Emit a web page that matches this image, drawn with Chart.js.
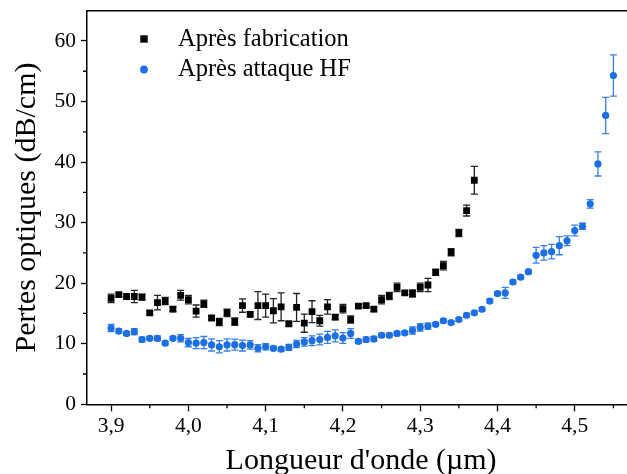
<!DOCTYPE html>
<html>
<head>
<meta charset="utf-8">
<script src="https://cdn.jsdelivr.net/npm/chart.js@4/dist/chart.umd.min.js"></script>
<style>
html,body{margin:0;padding:0;background:#fff;overflow:hidden;}
#wrap{width:640px;height:474px;}
</style>
</head>
<body>
<div id="wrap"><canvas id="c" width="640" height="474"></canvas></div>
<script>
// ---- Data ----
const wavelengthsFab = [3.90,3.91,3.92,3.93,3.94,3.95,3.96,3.97,3.98,3.99,4.00,4.01,4.02,4.03,4.04,4.05,4.06,4.07,4.08,4.09,4.10,4.11,4.12,4.13,4.14,4.15,4.16,4.17,4.18,4.19,4.20,4.21,4.22,4.23,4.24,4.25,4.26,4.27,4.28,4.29,4.30,4.31,4.32,4.33,4.34,4.35,4.36,4.37];
const lossFab = [17.5,18.1,17.8,17.8,17.7,15.1,16.8,17.05,15.7,18.0,17.3,15.4,16.6,14.25,13.6,15.1,13.65,16.3,14.85,16.3,16.3,15.45,16.1,13.3,16.0,13.4,15.3,13.8,16.1,14.4,15.8,14.0,16.2,16.3,15.7,17.3,17.9,19.3,18.4,18.3,19.3,19.7,21.8,22.9,25.1,28.3,32.0,37.0];
const errFab = [0.7,0.3,0.3,1.0,0.5,0.3,1.2,0.6,0.4,0.8,0.7,1.0,0.6,0.3,0.6,0.6,0.6,1.1,0.4,2.3,1.9,2.0,2.3,0.3,2.3,1.5,1.8,0.9,1.2,0.4,0.7,0.6,0.3,0.3,0.4,0.7,0.6,0.7,0.3,0.6,0.7,1.1,0.5,0.7,0.6,0.6,0.9,2.3];

const wavelengthsHF = [3.90,3.91,3.92,3.93,3.94,3.95,3.96,3.97,3.98,3.99,4.00,4.01,4.02,4.03,4.04,4.05,4.06,4.07,4.08,4.09,4.10,4.11,4.12,4.13,4.14,4.15,4.16,4.17,4.18,4.19,4.20,4.21,4.22,4.23,4.24,4.25,4.26,4.27,4.28,4.29,4.30,4.31,4.32,4.33,4.34,4.35,4.36,4.37,4.38,4.39,4.40,4.41,4.42,4.43,4.44,4.45,4.46,4.47,4.48,4.49,4.50,4.51,4.52,4.53,4.54,4.55];
const lossHF = [12.6,12.1,11.7,12.0,10.7,10.9,10.9,10.1,10.9,10.9,10.2,10.1,10.2,9.8,9.5,9.8,9.85,9.7,9.8,9.25,9.5,9.25,9.1,9.4,9.95,10.3,10.5,10.7,11.05,11.3,10.95,11.7,10.4,10.7,10.8,11.4,11.4,11.7,11.8,12.2,12.7,12.9,13.2,13.8,13.5,14.0,14.7,15.1,15.7,17.05,18.3,18.4,20.2,21.0,21.9,24.6,25.0,25.2,26.2,27.0,28.7,29.4,33.1,39.7,47.7,54.3];
const errHF = [0.6,0.3,0.3,0.5,0.4,0.3,0.4,0.3,0.3,0.6,0.7,0.9,1.0,1.0,1.0,1.0,0.9,0.9,0.7,0.6,0.5,0.3,0.3,0.5,0.6,0.7,0.8,0.9,1.0,1.0,0.9,0.8,0.3,0.4,0.4,0.3,0.3,0.3,0.3,0.6,0.6,0.5,0.3,0.3,0.3,0.3,0.3,0.3,0.3,0.3,0.3,0.9,0.3,0.3,0.3,1.3,1.2,1.2,1.5,0.8,0.9,0.5,0.7,2.0,3.0,3.4];

const xMajorTicks = [3.9,4.0,4.1,4.2,4.3,4.4,4.5];
const xMinorTicks = [3.95,4.05,4.15,4.25,4.35,4.45,4.55];
const yMajorTicks = [0,10,20,30,40,50,60];
const yMinorTicks = [5,15,25,35,45,55];
const seriesNames = ["Après fabrication","Après attaque HF"];

const BLACK = '#000000';
const BLUE = 'rgb(28,110,228)';
const BLUE_ERR = 'rgb(55,128,230)';
const FONT = "'Liberation Serif','Times New Roman',serif";

const errorBarPlugin = {
  id: 'errorBars',
  beforeDatasetsDraw(chart) {
    const ctx = chart.ctx, xs = chart.scales.x, ys = chart.scales.y;
    const sets = [[wavelengthsFab, lossFab, errFab, '#222'], [wavelengthsHF, lossHF, errHF, BLUE_ERR]];
    ctx.save();
    ctx.lineWidth = 1.3;
    sets.forEach(([wl, v, e, col]) => {
      ctx.strokeStyle = col;
      for (let i = 0; i < wl.length; i++) {
        const px = xs.getPixelForValue(wl[i]);
        const y1 = ys.getPixelForValue(v[i] + e[i]);
        const y2 = ys.getPixelForValue(v[i] - e[i]);
        ctx.beginPath();
        ctx.moveTo(px, y1); ctx.lineTo(px, y2);
        ctx.moveTo(px - 3.5, y1); ctx.lineTo(px + 3.5, y1);
        ctx.moveTo(px - 3.5, y2); ctx.lineTo(px + 3.5, y2);
        ctx.stroke();
      }
    });
    ctx.restore();
  }
};

const decorPlugin = {
  id: 'decor',
  afterDraw(chart) {
    const ctx = chart.ctx, xs = chart.scales.x, ys = chart.scales.y, a = chart.chartArea;
    ctx.save();
    ctx.strokeStyle = '#000';
    ctx.lineWidth = 1.3;
    ctx.beginPath();
    xMinorTicks.forEach(v => { const p = xs.getPixelForValue(v); ctx.moveTo(p, a.bottom); ctx.lineTo(p, a.bottom + 4); });
    yMinorTicks.forEach(v => { const p = ys.getPixelForValue(v); ctx.moveTo(a.left, p); ctx.lineTo(a.left - 4, p); });
    ctx.stroke();
    // top frame line
    ctx.lineWidth = 1.5;
    ctx.beginPath();
    ctx.moveTo(a.left, a.top); ctx.lineTo(a.right + 20, a.top);
    ctx.stroke();
    // legend
    ctx.fillStyle = BLACK;
    ctx.fillRect(144 - 3.7, 39 - 3.7, 7.4, 7.4);
    ctx.fillStyle = BLUE;
    ctx.beginPath(); ctx.arc(144, 69.5, 3.9, 0, Math.PI * 2); ctx.fill();
    ctx.fillStyle = '#000';
    ctx.font = "24.5px " + FONT;
    ctx.textBaseline = 'middle';
    ctx.textAlign = 'left';
    ctx.fillText(seriesNames[0], 178, 40);
    ctx.fillText(seriesNames[1], 178, 70);
    ctx.restore();
  }
};

new Chart(document.getElementById('c'), {
  type: 'scatter',
  data: {
    datasets: [
      { label: seriesNames[0], data: wavelengthsFab.map((w, i) => ({x: w, y: lossFab[i]})),
        pointStyle: 'rect', pointRadius: 4.8, backgroundColor: BLACK, borderWidth: 0, showLine: false },
      { label: seriesNames[1], data: wavelengthsHF.map((w, i) => ({x: w, y: lossHF[i]})),
        pointStyle: 'circle', pointRadius: 3.6, backgroundColor: BLUE, borderWidth: 0, showLine: false }
    ]
  },
  options: {
    responsive: false,
    animation: false,
    layout: { padding: { top: 10.7, left: 0, right: 0, bottom: 0 } },
    plugins: { legend: { display: false }, tooltip: { enabled: false } },
    scales: {
      x: {
        type: 'linear', min: 3.8688, max: 4.5782,
        afterBuildTicks: s => { s.ticks = xMajorTicks.map(v => ({value: v})); },
        afterFit: s => { s.height = 69.7; },
        ticks: { callback: v => v.toFixed(1).replace('.', ','), font: { family: FONT, size: 21.5 }, color: '#000', padding: 2, maxRotation: 0, autoSkip: false },
        grid: { drawOnChartArea: false, drawTicks: true, tickLength: 7, tickColor: '#000', tickWidth: 1.3 },
        border: { display: true, color: '#000', width: 1.5 },
        title: { display: true, text: "Longueur d'onde (µm)", font: { family: FONT, size: 30 }, color: '#000', padding: { top: 0, bottom: -5 } }
      },
      y: {
        type: 'linear', min: 0, max: 65,
        afterBuildTicks: s => { s.ticks = yMajorTicks.map(v => ({value: v})); },
        afterFit: s => { s.width = 87; },
        ticks: { font: { family: FONT, size: 21.5, lineHeight: 0.5 }, color: '#000', padding: 5, autoSkip: false },
        grid: { drawOnChartArea: false, drawTicks: true, tickLength: 6, tickColor: '#000', tickWidth: 1.3 },
        border: { display: true, color: '#000', width: 1.5 },
        title: { display: true, text: 'Pertes optiques (dB/cm)', font: { family: FONT, size: 30 }, color: '#000', padding: { top: 9, bottom: 0 } }
      }
    }
  },
  plugins: [errorBarPlugin, decorPlugin]
});
</script>
</body>
</html>
